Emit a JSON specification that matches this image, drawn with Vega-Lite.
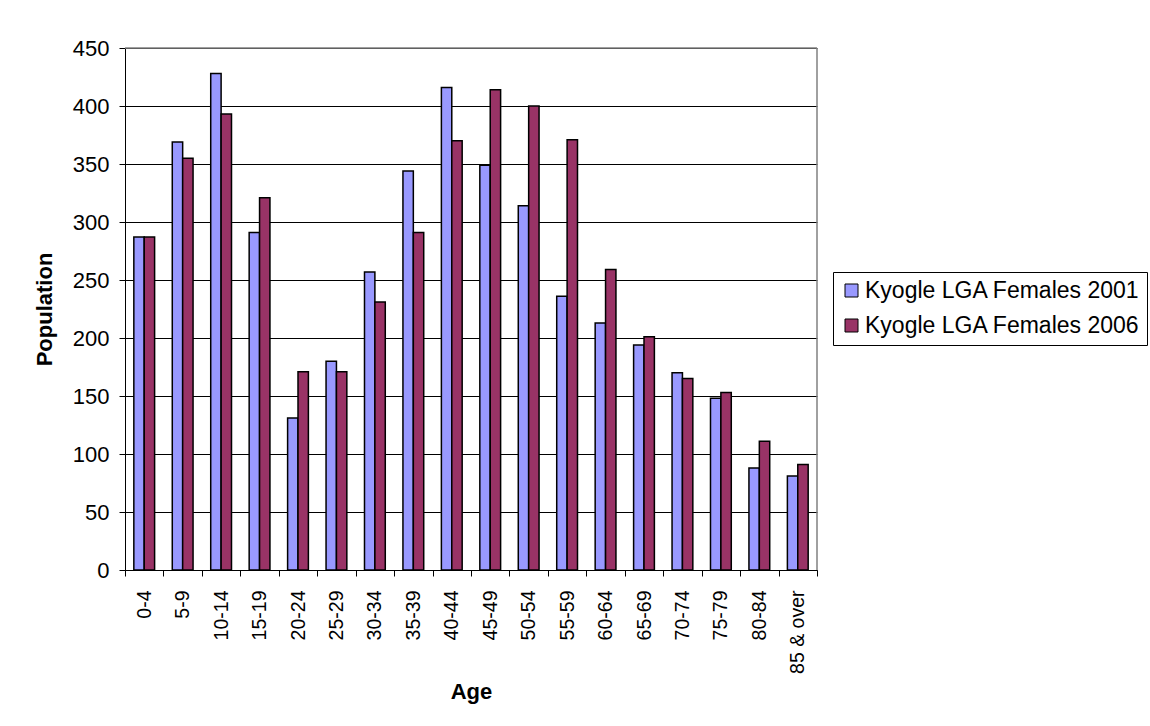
{
  "$schema": "https://vega.github.io/schema/vega-lite/v6.json",
  "autosize": {"type": "none"},
  "padding": {"left": 125, "top": 48, "right": 333, "bottom": 156},
  "width": 692,
  "height": 522,
  "background": "white",
  "config": {
    "font": "Liberation Sans",
    "view": {"stroke": null},
    "axis": {
      "labelFont": "Liberation Sans",
      "titleFont": "Liberation Sans",
      "labelColor": "black",
      "titleColor": "black",
      "domainColor": "black",
      "tickColor": "black",
      "gridColor": "black",
      "gridOpacity": 1,
      "tickSize": 6,
      "titleFontWeight": "bold",
      "titleFontSize": 22
    }
  },
  "data": {
    "values": [
      {"age": "0-4", "series": "Kyogle LGA Females 2001", "population": 287},
      {"age": "0-4", "series": "Kyogle LGA Females 2006", "population": 287},
      {"age": "5-9", "series": "Kyogle LGA Females 2001", "population": 369},
      {"age": "5-9", "series": "Kyogle LGA Females 2006", "population": 355},
      {"age": "10-14", "series": "Kyogle LGA Females 2001", "population": 428},
      {"age": "10-14", "series": "Kyogle LGA Females 2006", "population": 393},
      {"age": "15-19", "series": "Kyogle LGA Females 2001", "population": 291},
      {"age": "15-19", "series": "Kyogle LGA Females 2006", "population": 321},
      {"age": "20-24", "series": "Kyogle LGA Females 2001", "population": 131},
      {"age": "20-24", "series": "Kyogle LGA Females 2006", "population": 171},
      {"age": "25-29", "series": "Kyogle LGA Females 2001", "population": 180},
      {"age": "25-29", "series": "Kyogle LGA Females 2006", "population": 171},
      {"age": "30-34", "series": "Kyogle LGA Females 2001", "population": 257},
      {"age": "30-34", "series": "Kyogle LGA Females 2006", "population": 231},
      {"age": "35-39", "series": "Kyogle LGA Females 2001", "population": 344},
      {"age": "35-39", "series": "Kyogle LGA Females 2006", "population": 291},
      {"age": "40-44", "series": "Kyogle LGA Females 2001", "population": 416},
      {"age": "40-44", "series": "Kyogle LGA Females 2006", "population": 370},
      {"age": "45-49", "series": "Kyogle LGA Females 2001", "population": 349},
      {"age": "45-49", "series": "Kyogle LGA Females 2006", "population": 414},
      {"age": "50-54", "series": "Kyogle LGA Females 2001", "population": 314},
      {"age": "50-54", "series": "Kyogle LGA Females 2006", "population": 400},
      {"age": "55-59", "series": "Kyogle LGA Females 2001", "population": 236},
      {"age": "55-59", "series": "Kyogle LGA Females 2006", "population": 371},
      {"age": "60-64", "series": "Kyogle LGA Females 2001", "population": 213},
      {"age": "60-64", "series": "Kyogle LGA Females 2006", "population": 259},
      {"age": "65-69", "series": "Kyogle LGA Females 2001", "population": 194},
      {"age": "65-69", "series": "Kyogle LGA Females 2006", "population": 201},
      {"age": "70-74", "series": "Kyogle LGA Females 2001", "population": 170},
      {"age": "70-74", "series": "Kyogle LGA Females 2006", "population": 165},
      {"age": "75-79", "series": "Kyogle LGA Females 2001", "population": 148},
      {"age": "75-79", "series": "Kyogle LGA Females 2006", "population": 153},
      {"age": "80-84", "series": "Kyogle LGA Females 2001", "population": 88},
      {"age": "80-84", "series": "Kyogle LGA Females 2006", "population": 111},
      {"age": "85 & over", "series": "Kyogle LGA Females 2001", "population": 81},
      {"age": "85 & over", "series": "Kyogle LGA Females 2006", "population": 91}
    ]
  },
  "layer": [
    {
      "mark": {"type": "bar", "stroke": "black", "strokeWidth": 1.5},
      "encoding": {
        "x": {
          "field": "age",
          "type": "nominal",
          "sort": null,
          "scale": {"paddingInner": 0, "paddingOuter": 0},
          "axis": {
            "title": "Age",
            "labelAngle": -90,
            "labelFontSize": 19.5,
            "labelPadding": 14,
            "tickBand": "extent",
            "titlePadding": 8
          }
        },
        "xOffset": {
          "field": "series",
          "type": "nominal",
          "scale": {"paddingInner": 0, "paddingOuter": 0.85}
        },
        "y": {
          "field": "population",
          "type": "quantitative",
          "scale": {"domain": [0, 450], "nice": false},
          "axis": {
            "title": "Population",
            "values": [0, 50, 100, 150, 200, 250, 300, 350, 400, 450],
            "labelFontSize": 22,
            "labelPadding": 10,
            "titlePadding": 16
          }
        },
        "color": {
          "field": "series",
          "type": "nominal",
          "scale": {
            "domain": ["Kyogle LGA Females 2001", "Kyogle LGA Females 2006"],
            "range": ["#9999FF", "#993366"]
          },
          "legend": {
            "title": null,
            "orient": "none",
            "legendX": 708,
            "legendY": 224,
            "strokeColor": "black",
            "fillColor": "white",
            "padding": 7,
            "symbolType": "square",
            "symbolSize": 169,
            "symbolStrokeColor": "black",
            "symbolStrokeWidth": 1,
            "symbolOpacity": 1,
            "labelFont": "Liberation Sans",
            "labelFontSize": 23,
            "labelColor": "black",
            "labelOffset": 2,
            "labelLimit": 400,
            "rowPadding": 11
          }
        }
      }
    },
    {
      "data": {"values": [{"edge": "top"}]},
      "mark": {"type": "rule", "color": "#808080", "strokeWidth": 1.5},
      "encoding": {"y": {"datum": 450}}
    },
    {
      "data": {"values": [{"edge": "right"}]},
      "mark": {"type": "rule", "color": "#808080", "strokeWidth": 1.5},
      "encoding": {"x": {"datum": "85 & over", "bandPosition": 1}}
    }
  ]
}
